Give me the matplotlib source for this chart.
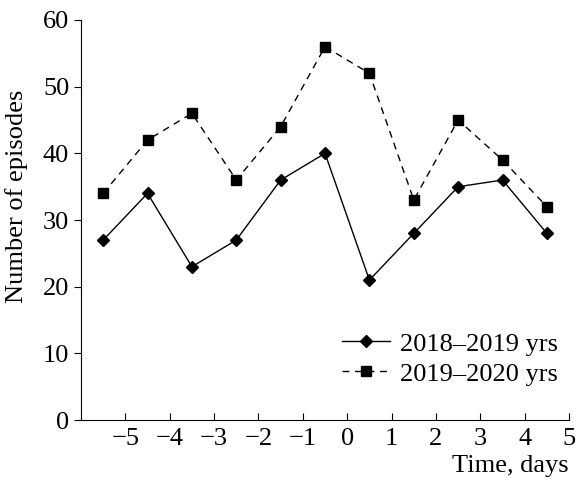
import matplotlib
matplotlib.use("Agg")
import matplotlib.pyplot as plt

# donnees
jours = [-5.5, -4.5, -3.5, -2.5, -1.5, -0.5, 0.5, 1.5, 2.5, 3.5, 4.5]
ep_2018_2019 = [27, 34, 23, 27, 36, 40, 21, 28, 35, 36, 28]
ep_2019_2020 = [34, 42, 46, 36, 44, 56, 52, 33, 45, 39, 32]
x_ticks = [-5, -4, -3, -2, -1, 0, 1, 2, 3, 4, 5]
y_ticks = [0, 10, 20, 30, 40, 50, 60]

plt.rcParams['font.family'] = ['Liberation Serif', 'DejaVu Serif']

fs = 19
fig = plt.figure(figsize=(5.76, 4.84), dpi=100)
ax = fig.add_axes([0.1406, 0.132, 0.8474, 0.8267])

ax.plot(jours, ep_2018_2019, 'k-', marker='D', markersize=6.5, linewidth=1,
        label='2018\u20132019 yrs')
ax.plot(jours, ep_2019_2020, 'k--', marker='s', markersize=6.5, linewidth=1,
        dashes=(5, 4), label='2019\u20132020 yrs')

ax.set_xlim(-6, 5)
ax.set_ylim(0, 60)
ax.set_xticks(x_ticks)
ax.set_xticklabels([str(t).replace('-', '\u2212') for t in x_ticks])
ax.set_yticks(y_ticks)

ax.spines['top'].set_visible(False)
ax.spines['right'].set_visible(False)
ax.tick_params(axis='x', direction='in', length=5, labelsize=fs, pad=6)
ax.tick_params(axis='y', direction='out', length=5, labelsize=fs)

ax.set_xlabel('Time, days', fontsize=fs, loc='right', labelpad=3)
ax.set_ylabel('Number of episodes', fontsize=fs)
ax.yaxis.set_label_coords(-0.108, 0.56)

ax.legend(loc='upper left', frameon=False, fontsize=fs, handlelength=1.8,
          handletextpad=0.4, borderpad=0, borderaxespad=0, labelspacing=0.25,
          bbox_to_anchor=(0.535, 0.22))

fig.savefig('out.png', dpi=100)
